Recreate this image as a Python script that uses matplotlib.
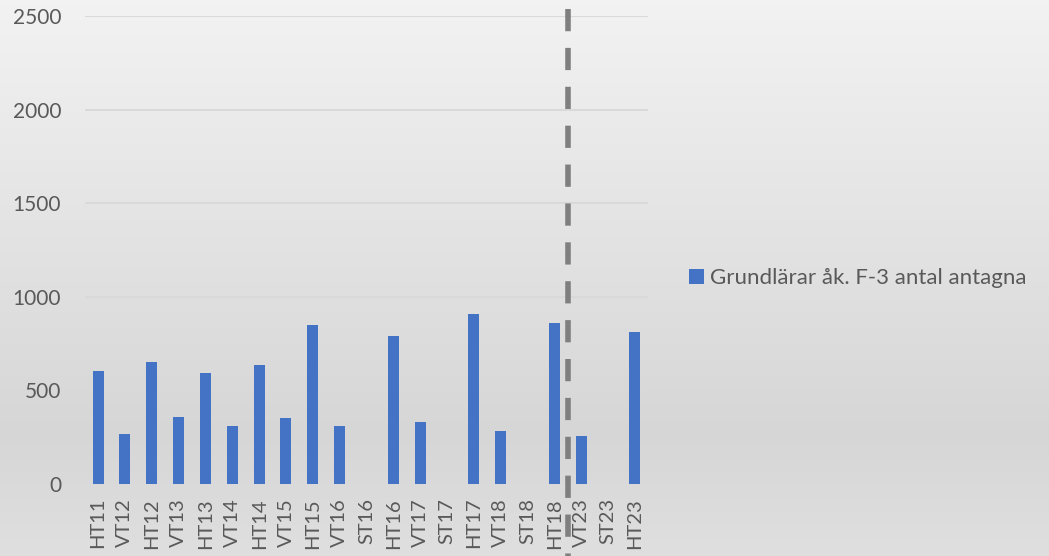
import numpy as np
import matplotlib
matplotlib.use("Agg")
import matplotlib.pyplot as plt
import matplotlib.transforms as mtransforms

plt.rcParams['font.family'] = ['Lato', 'DejaVu Sans']

terms = ["HT11", "VT12", "HT12", "VT13", "HT13", "VT14", "HT14", "VT15", "HT15",
         "VT16", "ST16", "HT16", "VT17", "ST17", "HT17", "VT18", "ST18", "HT18",
         "VT23", "ST23", "HT23"]
admitted = [604, 265, 652, 356, 591, 310, 636, 351, 849,
            310, 0, 792, 330, 0, 908, 283, 0, 858,
            258, 0, 814]
series_name = "Grundlärar åk. F-3 antal antagna"
y_ticks = [0, 500, 1000, 1500, 2000, 2500]

text_color = "#595959"
bar_color = "#4472C4"

fig = plt.figure(figsize=(10.49, 5.56), dpi=100)

# soft vertical gradient behind the chart
bg = fig.add_axes([0, 0, 1, 1], zorder=-10)
stops_y = np.array([0.0, 0.78, 1.0])
stops_v = np.array([0.95, 0.84, 0.875])
yy = np.linspace(0, 1, 556)
vals = np.interp(yy, stops_y, stops_v)
grad = np.repeat(vals[:, None], 4, axis=1)
bg.imshow(np.dstack([grad, grad, grad]), aspect="auto", extent=[0, 1, 1, 0])
bg.set_axis_off()

ax = fig.add_axes([0.0807, 0.1295, 0.5374, 0.8417])
ax.set_facecolor("none")

x = np.arange(len(terms))
ax.bar(x, admitted, width=0.41, color=bar_color, zorder=3, label=series_name)

ax.set_xlim(-0.5, len(terms) - 0.5)
ax.set_ylim(0, 2500)
ax.set_yticks(y_ticks)
ax.set_yticklabels([str(t) for t in y_ticks])
ax.set_xticks(x)
ax.set_xticklabels(terms, rotation=90)

ax.tick_params(axis="both", length=0, colors=text_color, labelsize=15)
ax.tick_params(axis="y", pad=17)
ax.tick_params(axis="x", pad=10, labelsize=14.5)
for s in ax.spines.values():
    s.set_visible(False)
ax.grid(axis="y", color="#d9d9d9", linewidth=1.5, zorder=0)
ax.set_axisbelow(True)

# dashed separator between HT18 and VT23
trans = mtransforms.blended_transform_factory(ax.transData, ax.transAxes)
ax.plot([17.5, 17.5], [1.015, -0.16], transform=trans, color="#7f7f7f",
        linewidth=4, linestyle=(0, (4, 3)), clip_on=False, zorder=4)

leg = ax.legend(loc="center left", bbox_to_anchor=(1.037, 0.44), frameon=False,
                fontsize=16, handlelength=0.65, handleheight=0.65,
                handletextpad=0.3, labelcolor=text_color)

fig.savefig("out.png", dpi=100)
